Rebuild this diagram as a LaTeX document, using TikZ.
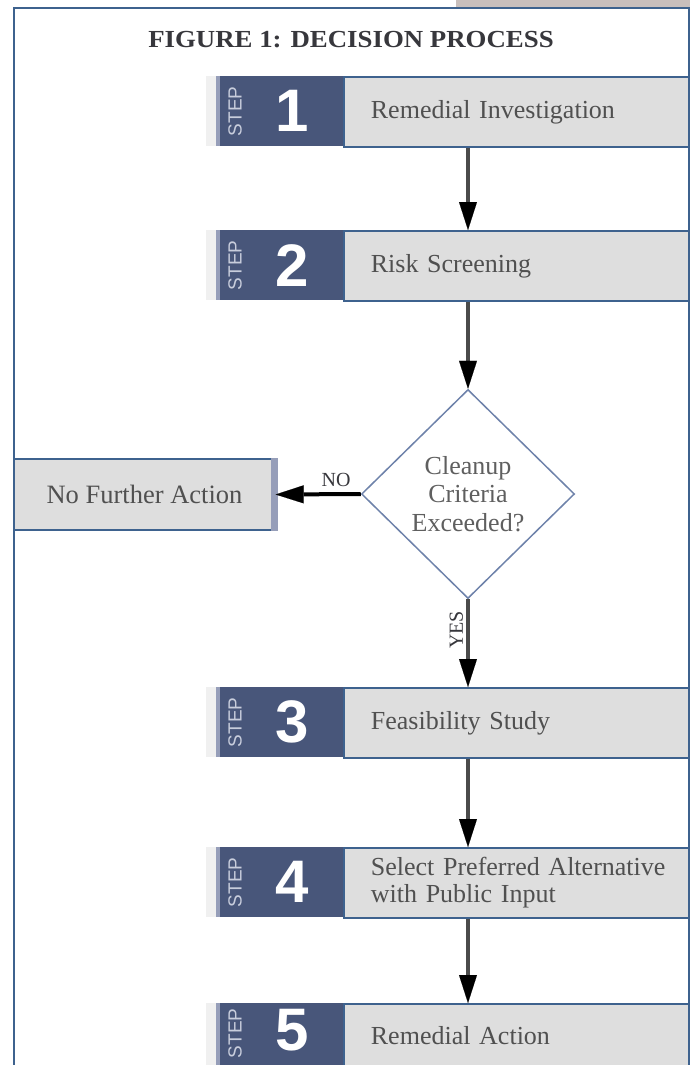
\documentclass[tikz,border=0pt]{standalone}
\usepackage{fontspec}
\setmainfont{Liberation Serif}
\newfontfamily\stepsans{Liberation Sans}
\usetikzlibrary{arrows.meta,shapes.geometric}
\definecolor{frameblue}{RGB}{62,98,142}
\definecolor{stepblue}{RGB}{72,86,122}
\definecolor{boxgray}{RGB}{222,222,222}
\definecolor{taupe}{RGB}{201,191,188}
\definecolor{txtgray}{RGB}{80,80,80}
\definecolor{difftxt}{RGB}{95,95,95}
\definecolor{diamline}{RGB}{110,130,170}
\definecolor{arrowgray}{RGB}{75,75,75}
\definecolor{steptxt}{RGB}{200,205,220}
\definecolor{edgeblue}{RGB}{150,158,185}
\definecolor{titlegray}{RGB}{55,55,60}
\begin{document}
\begin{tikzpicture}[x=1pt,y=-1pt,
  stepnum/.style={fill=stepblue, minimum width=127pt, minimum height=70pt, inner sep=0pt, anchor=north west,
    path picture={\fill[edgeblue] (path picture bounding box.north west) rectangle ([xshift=4pt]path picture bounding box.south west);}},
  stepbox/.style={fill=boxgray, draw=frameblue, line width=1.8pt, minimum width=345pt, minimum height=70pt,
    text width=291pt, inner xsep=27pt, inner ysep=0pt, align=left, anchor=north west,
    font=\fontsize{26}{27}\selectfont, text=txtgray},
  stepword/.style={rotate=90, font=\stepsans\fontsize{19}{19}\selectfont, text=steptxt, inner sep=0pt},
  stepdigit/.style={font=\stepsans\bfseries\fontsize{60}{60}\selectfont, text=white, inner sep=0pt},
  conn/.style={draw=arrowgray, line width=4pt, -{Triangle[width=18pt,length=28pt,line width=0.1pt,color=black]}},
  lbl/.style={font=\fontsize{20}{20}\selectfont, text=titlegray, inner sep=2pt}
]
\useasboundingbox (0,0) rectangle (690,1065);
\clip (0,0) rectangle (690,1065);
\fill[white] (0,0) rectangle (690,1065);
% top-right bar and frame
\fill[taupe] (456,0) rectangle (690,7);
\draw[frameblue, line width=2pt] (13.5,1080) -- (13.5,8) -- (688.5,8) -- (688.5,1080);
% light shadow strips left of step blocks
\foreach \yy/\hh in {76/70,230/70,687/70,847/70,1003/64}{
  \fill[black!6] (206,\yy) rectangle (216,\yy+\hh);
}
% title
\node[font=\fontsize{24.5}{28}\bfseries\selectfont, text=titlegray] (title) at (351,40) {\scalebox{1.095}[1]{FIGURE 1: DECISION PROCESS}};

% step 1
\node[stepnum] (s1) at (216,76) {};
\node[stepword] (w1) at ([xshift=19pt]s1.west) {STEP};
\node[stepdigit] (n1) at ([xshift=76pt]s1.west) {1};
\node[stepbox] (g1) at (343,76) {Remedial Investigation};
% step 2
\node[stepnum] (s2) at (216,230) {};
\node[stepword] (w2) at ([xshift=19pt]s2.west) {STEP};
\node[stepdigit] (n2) at ([xshift=76pt]s2.west) {2};
\node[stepbox] (g2) at (343,230) {Risk Screening};
% decision
\node[diamond, draw=diamline, line width=1.5pt, minimum width=213pt, minimum height=209pt, inner sep=0pt,
      align=center, font=\fontsize{26}{28.5}\selectfont, text=difftxt] (dia) at (468,494)
      {Cleanup\\Criteria\\Exceeded?};
% no further action
\node[fill=boxgray, draw=frameblue, line width=1.2pt, minimum width=261pt, minimum height=71pt, inner sep=0pt,
      font=\fontsize{26.5}{28}\selectfont, text=txtgray] (nfa) at (144.5,494.5) {No Further Action};
\fill[edgeblue] ([xshift=-5pt]nfa.north east) rectangle ([xshift=2pt]nfa.south east);
% step 3
\node[stepnum] (s3) at (216,687) {};
\node[stepword] (w3) at ([xshift=19pt]s3.west) {STEP};
\node[stepdigit] (n3) at ([xshift=76pt]s3.west) {3};
\node[stepbox] (g3) at (343,687) {Feasibility Study};
% step 4
\node[stepnum] (s4) at (216,847) {};
\node[stepword] (w4) at ([xshift=19pt]s4.west) {STEP};
\node[stepdigit] (n4) at ([xshift=76pt]s4.west) {4};
\node[stepbox] (g4) at (343,847) {\mbox{Select Preferred Alternative}\\with Public Input};
% step 5 (cut by the bottom edge)
\node[stepnum, minimum height=64pt] (s5) at (216,1003) {};
\node[stepword] (w5) at ([xshift=19pt,yshift=2pt]s5.west) {STEP};
\node[stepdigit] (n5) at ([xshift=76pt,yshift=5pt]s5.west) {5};
\node[stepbox, minimum height=64pt] (g5) at (343,1003) {Remedial Action};

% connectors
\draw[conn] (g1.south -| dia.north) -- (g2.north -| dia.north);
\draw[conn] (g2.south -| dia.north) -- (dia.north);
\draw[conn, draw=black] (dia.west) -- (nfa.east) node[lbl, pos=0.29, above=3pt] (no) {NO};
\draw[conn] (dia.south) -- (g3.north -| dia.south) node[lbl, pos=0.35, rotate=90, anchor=south, inner sep=3pt] (yes) {YES};
\draw[conn] (g3.south -| dia.north) -- (g4.north -| dia.north);
\draw[conn] (g4.south -| dia.north) -- (g5.north -| dia.north);
\end{tikzpicture}
\end{document}
